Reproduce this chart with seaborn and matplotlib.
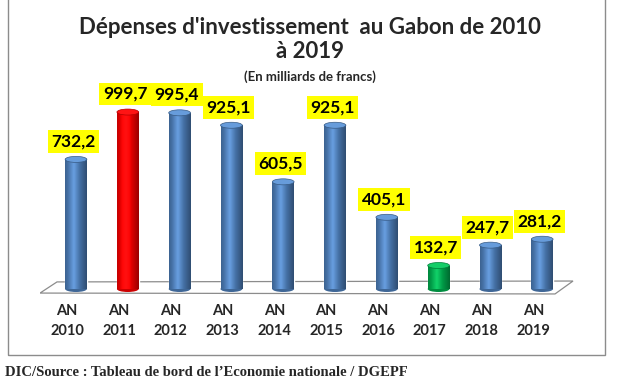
import numpy as np
import pandas as pd
import matplotlib
matplotlib.use('Agg')
import matplotlib.pyplot as plt
from matplotlib.patches import Ellipse, Polygon, Rectangle
import matplotlib.colors as mcolors
import seaborn as sns

# data
years = ['2010', '2011', '2012', '2013', '2014', '2015', '2016', '2017', '2018', '2019']
values = [732.2, 999.7, 995.4, 925.1, 605.5, 925.1, 405.1, 132.7, 247.7, 281.2]
bar_colors = ['#4F81BD', '#FF0000', '#4F81BD', '#4F81BD', '#4F81BD',
              '#4F81BD', '#4F81BD', '#00B050', '#4F81BD', '#4F81BD']
tick_labels = ['AN\n' + y for y in years]

df = pd.DataFrame({'year': years, 'value': values})

sns.set_style('white')
plt.rcParams['font.family'] = ['Lato', 'DejaVu Sans']

W, H = 620, 380
fig = plt.figure(figsize=(W / 100, H / 100), dpi=100)

def fx(px):
    return px / W

def fy(py):
    return 1 - py / H

# frame around the chart
fig.patches.append(Rectangle((fx(8), fy(355)), fx(597), 1, transform=fig.transFigure,
                             fill=False, edgecolor='#8c8c8c', lw=1))

# axes placed in pixel space
ax_l, ax_r, ax_t, ax_b = 40, 580, 90, 300
ax = fig.add_axes([fx(ax_l), fy(ax_b), fx(ax_r - ax_l), (ax_b - ax_t) / H])

sns.barplot(data=df, x='year', y='value', hue='year', palette=bar_colors,
            width=0.42, legend=False, ax=ax, saturation=1, zorder=3)

px_per_unit = 0.177
x0_px, step = 76, 51.8
ax.set_xlim((ax_l - x0_px) / step, (ax_r - x0_px) / step)
ax.set_ylim(-(ax_b - 289) / px_per_unit, (289 - ax_t) / px_per_unit)

# floor
floor = Polygon([[(40 - x0_px) / step, -23], [(57 - x0_px) / step, 40],
                 [(573 - x0_px) / step, 45], [(555 - x0_px) / step, -28]],
                closed=True, facecolor='white', edgecolor='#8c8c8c', lw=0.9, zorder=1)
ax.add_patch(floor)

# cylinder shading
cap_h = 6 / px_per_unit
for p, col in zip(ax.patches[:len(values)], bar_colors):
    x, w, h = p.get_x(), p.get_width(), p.get_height()
    base = np.array(mcolors.to_rgb(col))
    t = np.linspace(0, 1, 60)
    light = 1 - np.abs(t - 0.4) / 0.6
    shade = 0.6 + 0.5 * light
    grad = np.clip(base[None, :] * shade[:, None] + 0.15 * np.clip(light - 0.55, 0, 1)[:, None], 0, 1)
    img = ax.imshow(grad[None, :, :], extent=[x, x + w, 0, h], aspect='auto', zorder=4,
                    interpolation='bilinear')
    img.set_clip_path(p)
    ax.add_patch(Ellipse((x + w / 2, 0), w, cap_h, facecolor=base * 0.8, zorder=3.5, lw=0))
    top = np.clip(base * 1.05 + 0.08, 0, 1)
    ax.add_patch(Ellipse((x + w / 2, h), w, cap_h, facecolor=top, zorder=5,
                         edgecolor=base * 0.7, lw=0.5))

# value labels
for i, v in enumerate(values):
    ax.annotate(f'{v:.1f}'.replace('.', ','), (i, v), xytext=(-2, 13), textcoords='offset points',
                ha='center', va='center', fontsize=12.5, fontweight='bold', color='black',
                bbox=dict(boxstyle='square,pad=0.2', facecolor='#FFFF00', edgecolor='none'),
                zorder=6)

ax.set_xticks(np.arange(len(years)) - 0.17, tick_labels, fontsize=10.5, fontweight='bold',
              linespacing=1.55)
ax.tick_params(axis='x', length=0, pad=3)
ax.set_yticks([])
ax.set_xlabel('')
ax.set_ylabel('')
sns.despine(ax=ax, left=True, bottom=True)

fig.text(0.5, fy(27), "Dépenses d'investissement  au Gabon de 2010", ha='center', va='center',
         fontsize=16, fontweight='bold')
fig.text(0.5, fy(52), 'à 2019', ha='center', va='center', fontsize=16, fontweight='bold')
fig.text(0.5, fy(77), '(En milliards de francs)', ha='center', va='center',
         fontsize=9.5, fontweight='bold')
fig.text(fx(5), fy(379), "DIC/Source : Tableau de bord de l\u2019Economie nationale / DGEPF",
         ha='left', va='bottom', fontsize=10.5, fontweight='bold', family='Liberation Serif')

fig.savefig('out.png', dpi=100)
